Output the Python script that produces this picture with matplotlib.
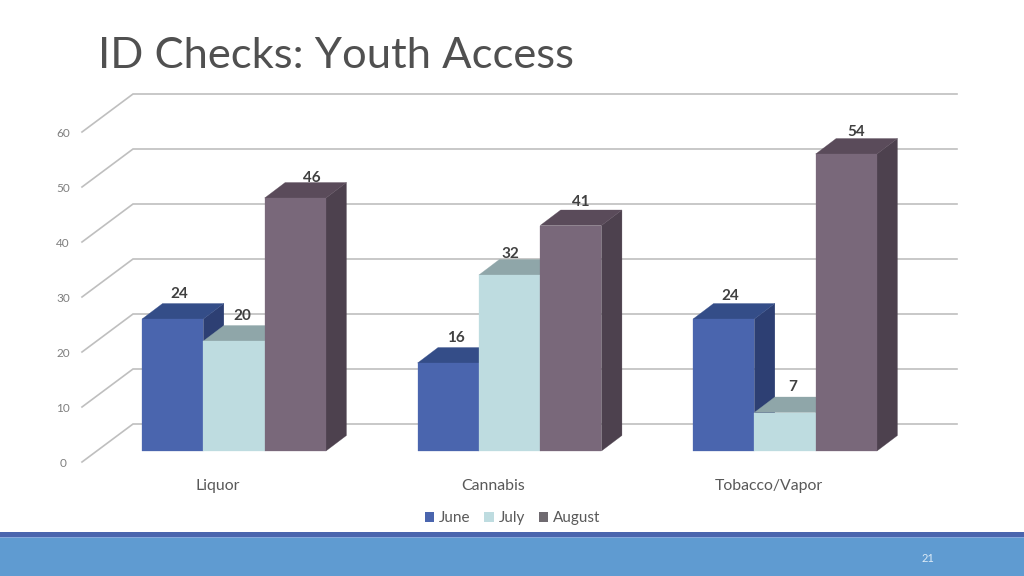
import matplotlib
matplotlib.use("Agg")
import matplotlib.pyplot as plt
from matplotlib.patches import Polygon, Rectangle

categories = ["Liquor", "Cannabis", "Tobacco/Vapor"]
months = ["June", "July", "August"]
june = [24, 16, 24]
july = [20, 32, 7]
august = [46, 41, 54]
y_ticks = [0, 10, 20, 30, 40, 50, 60]

# front, top, side colours per series
colors = {
    "June": ("#4A65AE", "#344D88", "#2D3F73"),
    "July": ("#BEDCE0", "#8FA6A9", "#8FA6A9"),
    "August": ("#79687A", "#5A4B5A", "#4D414E"),
}
legend_colors = ["#4A65AE", "#BEDCE0", "#6F6A70"]

W, H = 1024, 576
# pixel layout of the chart: first group centre, group spacing, baseline, px per unit
x0, group_px = 234.0, 275.5
base_px, unit_px = 451.0, 5.5
bar_w = 61.3 / group_px
depth_x = 20.5 / group_px
depth_y = 15.5 / unit_px
floor_back = 27 / unit_px
floor_front = -11 / unit_px

plt.rcParams["font.family"] = ["Lato", "DejaVu Sans"]
fig = plt.figure(figsize=(W / 100, H / 100), dpi=100, facecolor="white")
ax = fig.add_axes([0, 0, 1, 1])
ax.set_xlim(-x0 / group_px, (W - x0) / group_px)
ax.set_ylim((base_px - H) / unit_px, base_px / unit_px)
ax.axis("off")


def px_x(p):
    return (p - x0) / group_px


def px_y(p):
    return (base_px - p) / unit_px


# bottom band, kept under the axes so the page number stays visible
fig.patches.append(Rectangle((0, 0), 1, 39 / H, transform=fig.transFigure, color="#5F9BD1", lw=0, zorder=-3))
fig.patches.append(Rectangle((0, 38 / H), 1, 2 / H, transform=fig.transFigure, color="#86A9DC", lw=0, zorder=-2))
fig.patches.append(Rectangle((0, 39 / H), 1, 5 / H, transform=fig.transFigure, color="#4A65AE", lw=0, zorder=-1))

# wall and floor grid
for t in y_ticks:
    ax.plot([px_x(82), px_x(133), px_x(957)],
            [t + floor_front, t + floor_back, t + floor_back],
            color="#BFBFBF", lw=1.2, solid_joinstyle="miter", zorder=1)
    ax.text(px_x(63), t + floor_front - 1.5 / unit_px, str(t), ha="center", va="center",
            fontsize=8.5, color="#7F7F7F")


def draw_bar(left, value, cols, z):
    right = left + bar_w
    ax.add_patch(Polygon([(right, 0), (right + depth_x, depth_y),
                          (right + depth_x, value + depth_y), (right, value)],
                         fc=cols[2], ec=cols[2], lw=0.2, zorder=z))
    ax.add_patch(Polygon([(left, value), (right, value),
                          (right + depth_x, value + depth_y), (left + depth_x, value + depth_y)],
                         fc=cols[1], ec=cols[1], lw=0.2, zorder=z))
    ax.add_patch(Polygon([(left, 0), (right, 0), (right, value), (left, value)],
                         fc=cols[0], ec=cols[0], lw=0.2, zorder=z))


# small label shifts in px from the bar centre, as placed in the original
label_dx = {"June": [7, 8, 7], "July": [8, 1, 8], "August": [17, 10, 10]}
label_dy = {"June": [24.5, 24.5, 23.5], "July": [24.5, 21.5, 25.5], "August": [20.5, 23.5, 22.5]}

series = {"June": june, "July": july, "August": august}
z = 2
for i in range(len(categories)):
    for j, name in enumerate(months):
        left = i + (j - 1.5) * bar_w
        value = series[name][i]
        draw_bar(left, value, colors[name], z)
        z += 1
        ax.text(left + bar_w / 2 + label_dx[name][i] / group_px,
                value + label_dy[name][i] / unit_px,
                str(value), ha="center", va="center", fontsize=11,
                fontweight="bold", color="#404040", zorder=50)
    ax.text(i - 16.5 / group_px, px_y(486), categories[i], ha="center", va="center",
            fontsize=11.4, color="#595959")

handles = [Rectangle((0, 0), 1, 1, fc=c, ec="none") for c in legend_colors]
ax.legend(handles, months, loc="center", bbox_to_anchor=(512.5 / W, 1 - 518 / H),
          bbox_transform=fig.transFigure, ncol=3, frameon=False, fontsize=11,
          labelcolor="#595959", handlelength=0.63, handleheight=0.63,
          handletextpad=0.3, columnspacing=0.9, borderpad=0, borderaxespad=0)

ax.text(px_x(98), px_y(68), "ID Checks: Youth Access", ha="left", va="baseline",
        fontsize=31.3, color="#505050")
ax.text(px_x(928), px_y(558.5), "21", ha="center", va="center", fontsize=8, color="#DCEBF7")

fig.savefig("out.png", dpi=100)
